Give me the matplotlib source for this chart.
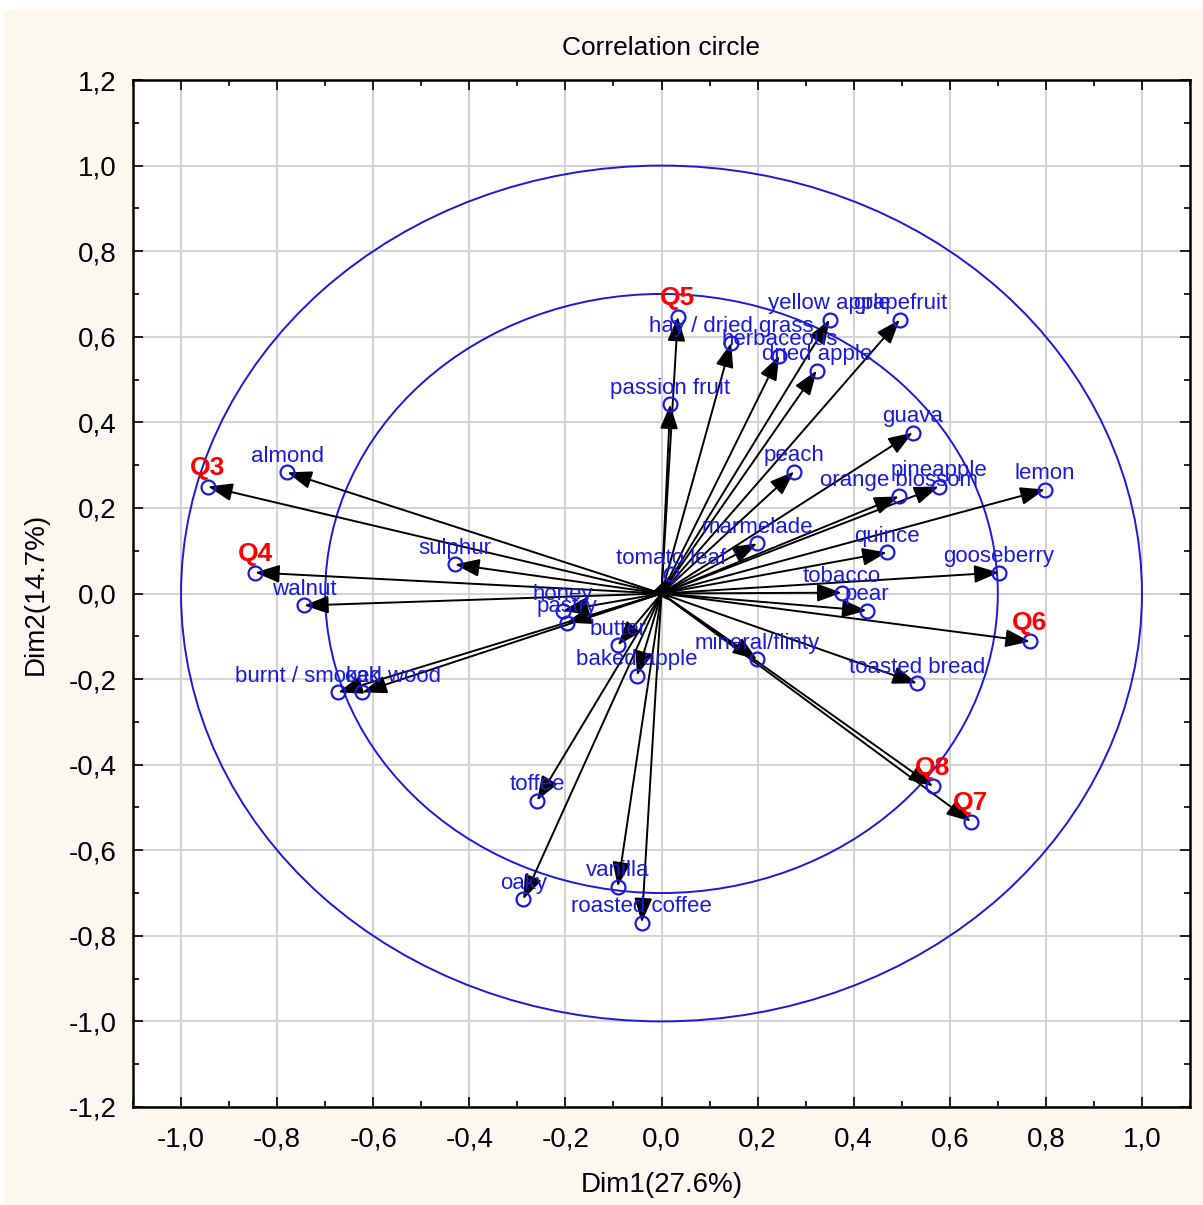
import matplotlib
matplotlib.use("Agg")
import matplotlib.pyplot as plt
from matplotlib.patches import Ellipse, Rectangle
from matplotlib.ticker import MultipleLocator, FuncFormatter
import numpy as np

plt.rcParams['font.family'] = ['Liberation Sans', 'DejaVu Sans']
plt.rcParams['axes.unicode_minus'] = False

# ---- data -------------------------------------------------------------
var_names = ["hay / dried grass", "herbaceous", "dried apple", "yellow apple",
             "grapefruit", "passion fruit", "guava", "peach", "orange blossom",
             "pineapple", "lemon", "marmelade", "tomato leaf", "quince",
             "gooseberry", "tobacco", "pear", "mineral/flinty", "toasted bread",
             "almond", "sulphur", "walnut", "honey", "pastry", "butter",
             "baked apple", "burnt / smoked wood", "oak", "toffee", "oaky",
             "vanilla", "roasted coffee"]
var_x = [0.145, 0.245, 0.323, 0.350, 0.496, 0.018, 0.523, 0.276, 0.494,
         0.577, 0.798, 0.199, 0.020, 0.469, 0.702, 0.375, 0.427, 0.199,
         0.532, -0.779, -0.430, -0.744, -0.205, -0.197, -0.091, -0.051,
         -0.673, -0.623, -0.259, -0.288, -0.091, -0.041]
var_y = [0.586, 0.556, 0.521, 0.640, 0.640, 0.442, 0.376, 0.285, 0.227,
         0.250, 0.243, 0.117, 0.045, 0.096, 0.049, 0.002, -0.040, -0.154,
         -0.210, 0.283, 0.068, -0.028, -0.040, -0.068, -0.121, -0.192,
         -0.231, -0.231, -0.484, -0.715, -0.685, -0.769]

q_names = ["Q3", "Q4", "Q5", "Q6", "Q7", "Q8"]
q_x = [-0.944, -0.846, 0.034, 0.767, 0.644, 0.565]
q_y = [0.250, 0.049, 0.647, -0.112, -0.533, -0.451]

circle_radii = [1.0, 0.7]

# ---- figure -----------------------------------------------------------
fig = plt.figure(figsize=(12.03, 12.05), dpi=100, facecolor='white')
fig.patches.append(Rectangle((0.003, 0.0), 0.997, 1 - 10 / 1205,
                             transform=fig.transFigure, facecolor='#fcf8ef',
                             edgecolor='none', zorder=-10))
ax = fig.add_axes([133 / 1203, 1 - 1107 / 1205, (1190 - 133) / 1203, (1107 - 80) / 1205])
ax.set_facecolor('white')
ax.set_xlim(-1.1, 1.1)
ax.set_ylim(-1.2, 1.2)

ax.xaxis.set_major_locator(MultipleLocator(0.2))
ax.xaxis.set_minor_locator(MultipleLocator(0.1))
ax.yaxis.set_major_locator(MultipleLocator(0.2))
ax.yaxis.set_minor_locator(MultipleLocator(0.1))
fmt = FuncFormatter(lambda v, p: f"{v:.1f}".replace('.', ',').replace('-0,0', '0,0'))
ax.xaxis.set_major_formatter(fmt)
ax.yaxis.set_major_formatter(fmt)
ax.tick_params(which='both', direction='in', top=True, right=True, labelsize=20,
               colors='black', width=1.2)
ax.tick_params(which='major', length=7)
ax.tick_params(which='minor', length=4)
ax.tick_params(axis='x', which='major', pad=14)
ax.tick_params(axis='y', which='major', pad=12)
ax.grid(True, which='major', color='#d4d4d4', lw=1.5, zorder=0)
ax.set_axisbelow(True)
for s in ax.spines.values():
    s.set_linewidth(1.8)
    s.set_color('black')

for r in circle_radii:
    ax.add_patch(Ellipse((0, 0), 2 * r, 2 * r, fill=False, edgecolor='#1a1adb',
                         lw=1.4, zorder=2))

all_x = var_x + q_x
all_y = var_y + q_y
for x, y in zip(all_x, all_y):
    ax.annotate('', xy=(x, y), xytext=(0, 0),
                arrowprops=dict(arrowstyle='-|>,head_length=1.5,head_width=0.55',
                                mutation_scale=10, color='black', lw=1.4,
                                shrinkA=0, shrinkB=0), zorder=3)

ax.plot(all_x, all_y, 'o', mfc='none', mec='#1a1adb', ms=10, mew=1.6, zorder=4)

for n, x, y in zip(var_names, var_x, var_y):
    ax.annotate(n, (x, y), xytext=(0, 11.5), textcoords='offset points',
                ha='center', va='center', color='#1a1adb', fontsize=16, zorder=5)
for n, x, y in zip(q_names, q_x, q_y):
    ax.annotate(n, (x, y), xytext=(0, 13.5), textcoords='offset points',
                ha='center', va='center', color='#ff0000', fontsize=19,
                fontweight='bold', zorder=5)

ax.set_title('Correlation circle', fontsize=19, pad=18)
ax.set_xlabel('Dim1(27.6%)', fontsize=20, labelpad=14)
ax.set_ylabel('Dim2(14.7%)', fontsize=20, labelpad=14)

fig.savefig('out.png', dpi=100, facecolor=fig.get_facecolor())
